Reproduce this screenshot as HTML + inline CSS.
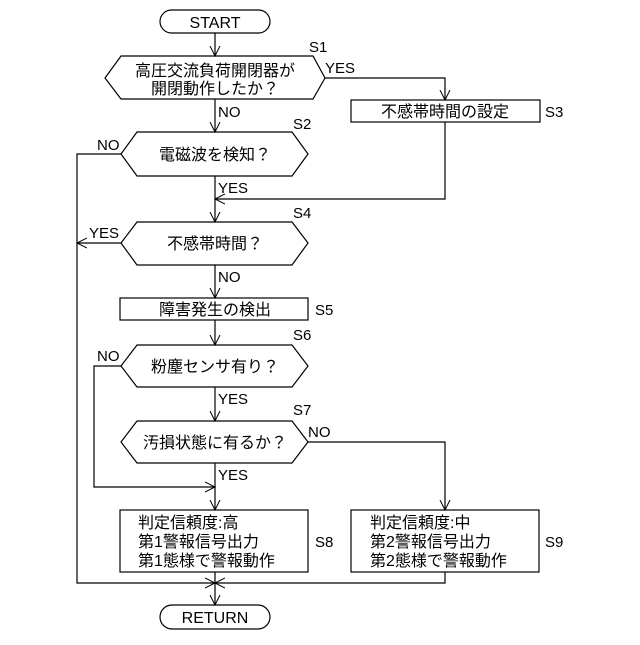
<!DOCTYPE html>
<html><head><meta charset="utf-8"><style>
body{margin:0;background:#fff}
text{font-family:"Liberation Sans","Noto Sans CJK JP",sans-serif;fill:#000}
</style></head><body>
<svg width="640" height="640" viewBox="0 0 640 640" xmlns="http://www.w3.org/2000/svg">
<defs><marker id="a" markerWidth="12" markerHeight="12" refX="10" refY="6" orient="auto" markerUnits="userSpaceOnUse"><path d="M0,1 L10,6 L0,11" fill="none" stroke="#000" stroke-width="1"/></marker></defs>
<g fill="none" stroke="#000" stroke-width="1.2">
<rect x="160" y="10" width="110" height="23" rx="11.5"/>
<rect x="160" y="605" width="110" height="24" rx="12"/>
<polygon points="105,78 121,56 313,56 325,78 313,99 121,99"/>
<polygon points="121,154 137,132 292,132 308,154 292,176 137,176"/>
<polygon points="121,243 137,222 292,222 308,243 292,265 137,265"/>
<polygon points="121,366 137,345 292,345 308,366 292,387 137,387"/>
<polygon points="121,442 137,421 292,421 308,442 292,463 137,463"/>
<rect x="351" y="100" width="189" height="22"/>
<rect x="120" y="298" width="188" height="22"/>
<rect x="120" y="510" width="188" height="62"/>
<rect x="351" y="510" width="188" height="62"/>
<line x1="215" y1="33" x2="215" y2="56" marker-end="url(#a)"/>
<line x1="215" y1="99" x2="215" y2="132" marker-end="url(#a)"/>
<line x1="215" y1="176" x2="215" y2="222" marker-end="url(#a)"/>
<line x1="215" y1="265" x2="215" y2="298" marker-end="url(#a)"/>
<line x1="215" y1="320" x2="215" y2="345" marker-end="url(#a)"/>
<line x1="215" y1="387" x2="215" y2="421" marker-end="url(#a)"/>
<line x1="215" y1="463" x2="215" y2="510" marker-end="url(#a)"/>
<line x1="215" y1="572" x2="215" y2="605" marker-end="url(#a)"/>
<polyline points="325,78 445,78 445,100" marker-end="url(#a)"/>
<polyline points="445,122 445,199 215,199" marker-end="url(#a)"/>
<polyline points="121,154 77,154 77,583 215,583" marker-end="url(#a)"/>
<line x1="121" y1="243" x2="77" y2="243" marker-end="url(#a)"/>
<polyline points="121,366 94,366 94,487 215,487" marker-end="url(#a)"/>
<polyline points="308,442 445,442 445,510" marker-end="url(#a)"/>
<polyline points="445,572 445,583 215,583" marker-end="url(#a)"/>
</g>
<g font-size="16">
<text x="215" y="28" text-anchor="middle">START</text>
<text x="215" y="623" text-anchor="middle">RETURN</text>
<text x="215" y="76" text-anchor="middle">高圧交流負荷開閉器が</text>
<text x="215" y="94" text-anchor="middle">開閉動作したか？</text>
<text x="215" y="160" text-anchor="middle">電磁波を検知？</text>
<text x="215" y="249" text-anchor="middle">不感帯時間？</text>
<text x="445" y="117" text-anchor="middle">不感帯時間の設定</text>
<text x="215" y="315" text-anchor="middle">障害発生の検出</text>
<text x="215" y="372" text-anchor="middle">粉塵センサ有り？</text>
<text x="215" y="448" text-anchor="middle">汚損状態に有るか？</text>
<text x="138" y="528">判定信頼度:高</text>
<text x="138" y="547">第1警報信号出力</text>
<text x="138" y="566">第1態様で警報動作</text>
<text x="370" y="528">判定信頼度:中</text>
<text x="370" y="547">第2警報信号出力</text>
<text x="370" y="566">第2態様で警報動作</text>
</g>
<g font-size="15">
<text x="309" y="52">S1</text><text x="293" y="129">S2</text><text x="545" y="117">S3</text>
<text x="293" y="218">S4</text><text x="315" y="315">S5</text><text x="293" y="340">S6</text>
<text x="293" y="415">S7</text><text x="315" y="547">S8</text><text x="545" y="547">S9</text>
<text x="325" y="73">YES</text><text x="218" y="117">NO</text>
<text x="97" y="150">NO</text><text x="218" y="193">YES</text>
<text x="89" y="238">YES</text><text x="218" y="282">NO</text>
<text x="97" y="361">NO</text><text x="218" y="404">YES</text>
<text x="308" y="437">NO</text><text x="218" y="480">YES</text>
</g>
</svg>
</body></html>
